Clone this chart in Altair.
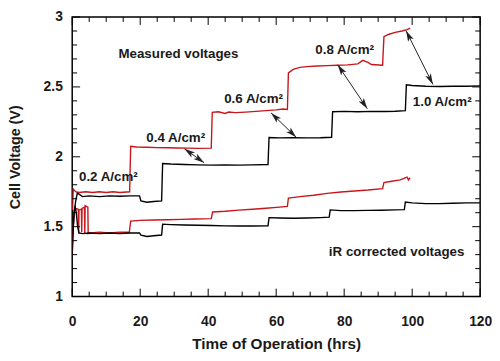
import math
import altair as alt
import pandas as pd

# ---------------- data ----------------
# Measured voltage, red cell
mr_t = [0.1, 0.3, 0.6, 1.0, 2.0, 4.0, 6.0, 8.0, 10.0, 12.0, 14.0, 16.9,
        17.2, 19.0, 22.0, 25.0, 28.0, 31.0, 34.0, 37.0, 40.9,
        41.2, 43.0, 45.0, 46.0, 48.0, 51.0, 54.0, 57.0, 60.0, 62.0, 63.3,
        63.6, 65.0, 67.0, 69.0, 72.0, 75.0, 78.0, 81.0, 84.0, 85.5, 87.0, 88.0, 91.3,
        91.7, 93.0, 95.0, 97.0, 98.5, 99.4]
mr_v = [1.62, 1.77, 1.76, 1.75, 1.745, 1.75, 1.745, 1.75, 1.745, 1.75, 1.745, 1.75,
        2.075, 2.07, 2.068, 2.066, 2.065, 2.063, 2.062, 2.06, 2.062,
        2.318, 2.322, 2.31, 2.32, 2.316, 2.32, 2.325, 2.33, 2.336, 2.342, 2.338,
        2.60, 2.625, 2.64, 2.645, 2.65, 2.652, 2.655, 2.658, 2.665, 2.69, 2.675, 2.66, 2.655,
        2.86, 2.875, 2.89, 2.90, 2.91, 2.92]

# Measured voltage, black cell
mb_t = [0.2, 0.6, 1.0, 1.5, 2.2, 3.0, 5.0, 8.0, 11.0, 14.0, 17.0, 19.8,
        20.2, 22.0, 24.0, 26.3,
        26.6, 29.0, 33.0, 37.0, 41.0, 45.0, 49.0, 53.0, 57.6,
        57.9, 61.0, 65.0, 69.0, 73.0, 76.3,
        76.6, 80.0, 84.0, 88.0, 92.0, 95.0, 98.0,
        98.3, 100.0, 104.0, 108.0, 112.0, 116.0, 120.0]
mb_v = [1.45, 1.60, 1.68, 1.74, 1.73, 1.715, 1.72, 1.715, 1.72, 1.718, 1.72, 1.72,
        1.685, 1.675, 1.68, 1.685,
        1.952, 1.948, 1.945, 1.942, 1.94, 1.942, 1.94, 1.942, 1.945,
        2.138, 2.135, 2.137, 2.135, 2.136, 2.14,
        2.322, 2.325, 2.322, 2.325, 2.324, 2.326, 2.33,
        2.515, 2.51, 2.505, 2.503, 2.505, 2.505, 2.507]

# iR corrected voltage, black cell
ib_t = [0.0, 0.4, 0.8, 1.2, 1.6, 2.0, 3.0, 5.0, 8.0, 11.0, 14.0, 17.0, 19.8,
        20.2, 22.0, 24.0, 26.3,
        26.6, 29.0, 33.0, 37.0, 41.0, 45.0, 49.0, 53.0, 57.6,
        57.9, 61.0, 65.0, 69.0, 73.0, 75.6,
        75.9, 79.0, 83.0, 87.0, 91.0, 95.0, 97.7,
        98.0, 100.0, 104.0, 108.0, 112.0, 116.0, 120.0]
ib_v = [1.30, 1.55, 1.65, 1.60, 1.50, 1.455, 1.45, 1.455, 1.45, 1.455, 1.45, 1.455, 1.455,
        1.44, 1.43, 1.435, 1.44,
        1.518, 1.515, 1.512, 1.51, 1.508, 1.506, 1.505, 1.505, 1.506,
        1.565, 1.562, 1.56, 1.562, 1.565, 1.568,
        1.62, 1.615, 1.615, 1.617, 1.618, 1.62, 1.622,
        1.676, 1.67, 1.665, 1.665, 1.668, 1.67, 1.67]

# iR corrected voltage, red cell
ir_t = [0.0, 0.3, 0.6, 1.0, 1.8, 1.9, 2.0, 2.7, 2.8, 2.9, 3.6, 3.7, 3.8, 4.6, 4.7, 5.2,
        8.0, 11.0, 14.0, 16.8,
        17.2, 20.0, 24.0, 28.0, 32.0, 36.0, 40.9,
        41.3, 45.0, 49.0, 53.0, 57.0, 61.0, 63.3,
        63.6, 67.0, 71.0, 75.0, 79.0, 83.0, 87.0, 91.3,
        91.7, 94.0, 96.5, 98.5, 98.9, 99.4]
ir_v = [1.30, 1.50, 1.62, 1.63, 1.625, 1.45, 1.62, 1.625, 1.46, 1.63, 1.64, 1.45, 1.65, 1.64, 1.45, 1.455,
        1.46, 1.455, 1.46, 1.46,
        1.54, 1.545, 1.548, 1.55, 1.552, 1.555, 1.558,
        1.605, 1.61, 1.618, 1.625, 1.632, 1.64, 1.645,
        1.705, 1.715, 1.725, 1.738, 1.748, 1.755, 1.762, 1.772,
        1.815, 1.825, 1.835, 1.855, 1.835, 1.85]

# double-headed arrows linking the two measured curves (start t, start V, end t, end V)
arrow_t1 = [33.0, 58.5, 78.1, 98.2]
arrow_v1 = [2.057, 2.314, 2.658, 2.902]
arrow_t2 = [38.8, 65.9, 86.8, 106.1]
arrow_v2 = [1.958, 2.140, 2.344, 2.518]

# annotation texts
ann_text = ["Measured voltages", "0.2 A/cm²", "0.4 A/cm²", "0.6 A/cm²",
            "0.8 A/cm²", "1.0 A/cm²", "iR corrected voltages"]

# axis ticks
x_labels = [0, 20, 40, 60, 80, 100, 120]
x_minor = [t for t in range(0, 121, 5) if t % 20 != 0]
y_labels = [1.0, 1.5, 2.0, 2.5, 3.0]
y_minor = [round(1 + 0.1 * k, 1) for k in range(21) if k % 5 != 0]

# ---------------- build chart ----------------
W, H = 413, 283
FONT = "Liberation Sans"
TXT = "#1a1a1a"
RED = "#c8161d"

for a, b in [(mr_t, mr_v), (mb_t, mb_v), (ib_t, ib_v), (ir_t, ir_v)]:
    assert len(a) == len(b)

rows = []
for name, ts, vs in [("mr", mr_t, mr_v), ("mb", mb_t, mb_v),
                     ("ir", ir_t, ir_v), ("ib", ib_t, ib_v)]:
    for i, (t, v) in enumerate(zip(ts, vs)):
        rows.append({"series": name, "t": t, "v": v, "i": i})
df = pd.DataFrame(rows)

xs = alt.Scale(domain=[0, 120], nice=False, zero=False)
ys = alt.Scale(domain=[1, 3], nice=False, zero=False)

x_axis = alt.Axis(values=x_labels, title="Time of Operation (hrs)", ticks=False, tickSize=0,
                  domain=False, grid=False, labelFlush=False, labelOverlap=False,
                  labelFont=FONT, labelFontSize=14, labelFontWeight="bold", labelColor=TXT,
                  labelPadding=18, titleFont=FONT, titleFontSize=15.5, titleFontWeight="bold",
                  titleColor=TXT, titlePadding=9)
y_axis = alt.Axis(values=y_labels, format="~g", title="Cell Voltage (V)", ticks=False, tickSize=0,
                  domain=False, grid=False, labelOverlap=False,
                  labelFont=FONT, labelFontSize=14, labelFontWeight="bold", labelColor=TXT,
                  labelPadding=10, titleFont=FONT, titleFontSize=14.5, titleFontWeight="bold",
                  titleColor=TXT, titlePadding=21)


def X(field):
    return alt.X(field, scale=xs, axis=x_axis)


def Y(field):
    return alt.Y(field, scale=ys, axis=y_axis)


lines = alt.Chart(df).mark_line(strokeWidth=1.4, clip=True).encode(
    x=X("t:Q"),
    y=Y("v:Q"),
    color=alt.Color("series:N", scale=alt.Scale(domain=["mr", "mb", "ir", "ib"],
                                                range=[RED, "#000000", RED, "#000000"]),
                    legend=None),
    order=alt.Order("i:Q"),
)


# inward tick marks on all four sides
def xticks(vals, length):
    d = pd.DataFrame({"t": vals})
    base = alt.Chart(d).mark_rule(color="black", strokeWidth=1)
    bottom = base.encode(x=X("t:Q"), y=alt.value(H), y2=alt.value(H - length))
    top = base.encode(x=X("t:Q"), y=alt.value(0), y2=alt.value(length))
    return [bottom, top]


def yticks(vals, length):
    d = pd.DataFrame({"v": vals})
    base = alt.Chart(d).mark_rule(color="black", strokeWidth=1)
    left = base.encode(y=Y("v:Q"), x=alt.value(0), x2=alt.value(length))
    right = base.encode(y=Y("v:Q"), x=alt.value(W), x2=alt.value(W - length))
    return [left, right]


tick_layers = xticks(x_labels, 8) + xticks(x_minor, 5) + yticks(y_labels, 8) + yticks(y_minor, 5)

# arrows
adf = pd.DataFrame({"t1": arrow_t1, "v1": arrow_v1, "t2": arrow_t2, "v2": arrow_v2})
shafts = alt.Chart(adf).mark_rule(color="#222222", strokeWidth=1).encode(
    x=X("t1:Q"), y=Y("v1:Q"), x2="t2:Q", y2="v2:Q")


def angle(dt, dv):
    dx = dt * W / 120.0
    dy = -dv * H / 2.0
    return math.degrees(math.atan2(dx, -dy)) % 360


heads = []
for t1, v1, t2, v2 in zip(arrow_t1, arrow_v1, arrow_t2, arrow_v2):
    heads.append({"t": t2, "v": v2, "ang": angle(t2 - t1, v2 - v1)})
    heads.append({"t": t1, "v": v1, "ang": angle(t1 - t2, v1 - v2)})
hdf = pd.DataFrame(heads)
ARROW = "M0,0 L0.6,2.1 L0,1.6 L-0.6,2.1 Z"
arrowheads = alt.Chart(hdf).mark_point(shape=ARROW, filled=True, size=110, color="#222222",
                                       opacity=1, strokeWidth=0).encode(
    x=X("t:Q"), y=Y("v:Q"), angle=alt.Angle("ang:Q", scale=None))

# annotations (placed in data coordinates)
ann_t = [13.6, 2.0, 21.8, 44.7, 71.5, 100.2, 75.5]
ann_v = [2.735, 1.856, 2.137, 2.414, 2.763, 2.391, 1.32]
tdf = pd.DataFrame({"t": ann_t, "v": ann_v, "label": ann_text})
texts = alt.Chart(tdf).mark_text(align="left", baseline="middle", font=FONT, fontSize=13.5,
                                 fontWeight="bold", color=TXT).encode(
    x=X("t:Q"), y=Y("v:Q"), text="label:N")

chart = alt.layer(lines, *tick_layers, shafts, arrowheads, texts).properties(
    width=W, height=H,
    padding={"left": 65, "top": 7, "right": 12, "bottom": 55},
    autosize=alt.AutoSizeParams(type="none"),
    background="white",
).configure_view(stroke="black", strokeWidth=1.5)

chart.save("out.html", embed_options={"renderer": "svg", "actions": False})
